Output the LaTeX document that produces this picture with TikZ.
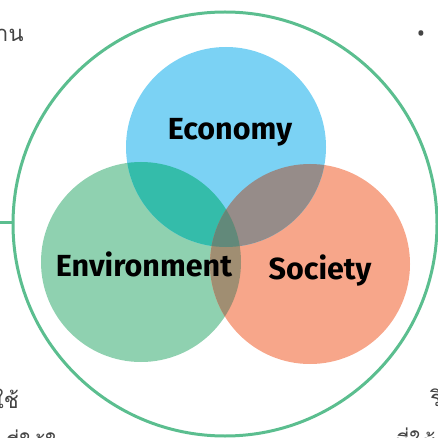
\documentclass[tikz,border=0pt]{standalone}
\usepackage{fontspec}
\setmainfont{Noto Sans}
\newfontfamily\lblfont{Fira Sans}
\newfontfamily\thaifont[Script=Thai]{Loma}
\definecolor{econ}{HTML}{7BD2F4}
\definecolor{envi}{HTML}{8FD1B0}
\definecolor{soci}{HTML}{F7A68A}
\definecolor{ee}{HTML}{34BCAA}
\definecolor{es}{HTML}{968C89}
\definecolor{vs}{HTML}{A08E72}
\definecolor{all}{HTML}{62897A}
\definecolor{ring}{HTML}{5BBE8F}
\definecolor{thai}{HTML}{444444}
\begin{document}
\begin{tikzpicture}[x=1pt,y=-1pt,
  lbl/.style={font=\lblfont\bfseries\fontsize{30.5}{30.5}\selectfont, text=black, inner sep=0pt, anchor=base},
  th/.style={font=\thaifont\fontsize{22}{22}\selectfont, text=thai, inner sep=0pt, anchor=base west}]
\useasboundingbox (0,0) rectangle (438,438);
\clip (0,0) rectangle (438,438);
\coordinate (cE) at (226,147);
\coordinate (cV) at (141,262);
\coordinate (cS) at (310,264);
\def\R{100}
% outer ring
\draw[ring, line width=3pt] (225,224) circle (212);
\coordinate (lt) at (0,222);
\draw[ring, line width=3pt] (lt) -- (13,222);
% circles
\fill[envi] (cV) circle (\R);
\fill[soci] (cS) circle (\R);
\fill[econ] (cE) circle (\R);
\begin{scope}
  \clip (cE) circle (\R);
  \fill[ee] (cV) circle (\R);
  \fill[es] (cS) circle (\R);
\end{scope}
\begin{scope}
  \clip (cV) circle (\R);
  \fill[vs] (cS) circle (\R);
  \clip (cS) circle (\R);
  \fill[all] (cE) circle (\R);
\end{scope}
% labels
\node[lbl] (econ) at (230,140) {Economy};
\node[lbl] (envi) at (144,276) {Environment};
\node[lbl] (soci) at (320,279) {Society};
% Thai fragments at edges
\node[th] (t1) at (-4,42) {าน};
\node[th] (t2) at (-7,408) {ใช้};
\node[th] (t3) at (430,406) {ริ};
\node[th] (t4) at (395,450) {ที่ใช้};
\node[th] (t5) at (5,452) {ที่ใช้ใน};
\node[font=\fontsize{22}{22}\selectfont, text=thai, inner sep=0pt] (b) at (421,36) {•};
\end{tikzpicture}
\end{document}
